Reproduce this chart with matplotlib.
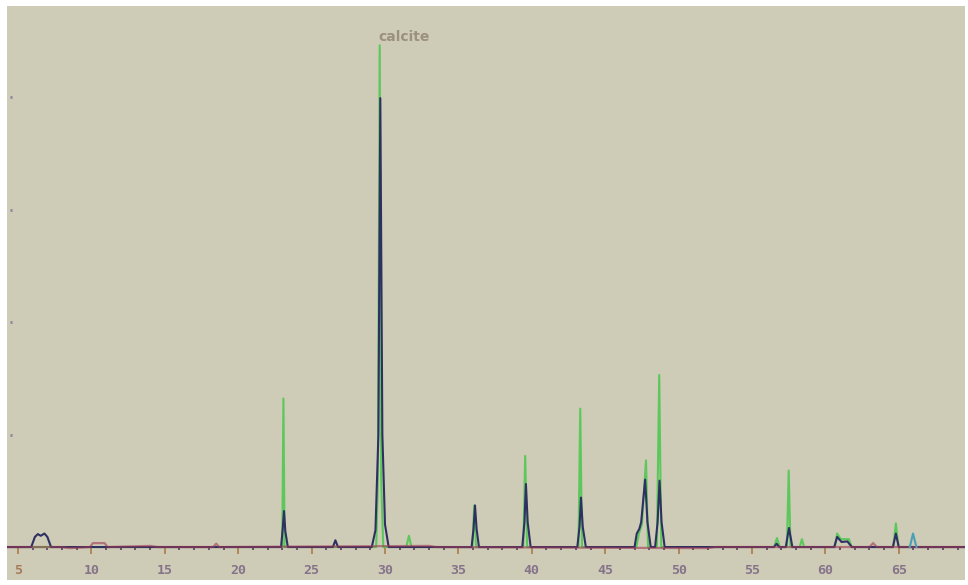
import matplotlib
matplotlib.use("Agg")
import matplotlib.pyplot as plt
from matplotlib.ticker import MultipleLocator

dark_x = [4.3, 5.9, 6.15, 6.35, 6.55, 6.8, 7.0, 7.25,
          22.92, 23.03, 23.12, 23.21, 23.38,
          26.45, 26.62, 26.8,
          29.1, 29.35, 29.55, 29.68, 29.82, 30.0, 30.25,
          35.9, 36.03, 36.13, 36.24, 36.4,
          39.35, 39.5, 39.6, 39.72, 39.92,
          43.1, 43.25, 43.35, 43.47, 43.68,
          47.0, 47.15, 47.32, 47.45, 47.72, 47.88, 48.1,
          48.4, 48.57, 48.7, 48.84, 49.05,
          56.5, 56.68, 56.85,
          57.3, 57.52, 57.75,
          60.6, 60.8, 61.1, 61.5, 61.8,
          64.6, 64.8, 65.0, 69.5]
dark_y = [0, 0, 0.09, 0.115, 0.10, 0.12, 0.09, 0,
          0, 0.16, 0.32, 0.14, 0,
          0, 0.06, 0,
          0, 0.15, 1.0, 3.99, 1.0, 0.2, 0,
          0, 0.16, 0.37, 0.16, 0,
          0, 0.22, 0.56, 0.22, 0,
          0, 0.18, 0.44, 0.18, 0,
          0, 0.12, 0.16, 0.22, 0.6, 0.22, 0,
          0, 0.22, 0.59, 0.22, 0,
          0, 0.03, 0,
          0, 0.17, 0,
          0, 0.09, 0.045, 0.05, 0,
          0, 0.12, 0, 0]

# second pattern (green trace)
green_x = [4.3, 23.0, 23.08, 23.16,
           29.4, 29.52, 29.64, 29.74, 29.88,
           31.45, 31.63, 31.8,
           35.95, 36.08, 36.2,
           39.42, 39.55, 39.68,
           43.18, 43.3, 43.42,
           47.12, 47.3, 47.5, 47.78, 47.92,
           48.52, 48.68, 48.82,
           56.5, 56.7, 56.9,
           57.38, 57.5, 57.62,
           58.25, 58.4, 58.55,
           60.65, 60.8, 61.05, 61.6, 61.8,
           64.62, 64.8, 64.98, 69.5]
green_y = [0, 0, 1.32, 0,
           0, 0.6, 4.46, 0.6, 0,
           0, 0.10, 0,
           0, 0.37, 0,
           0, 0.81, 0,
           0, 1.23, 0,
           0, 0.12, 0.2, 0.77, 0,
           0, 1.53, 0,
           0, 0.08, 0,
           0, 0.68, 0,
           0, 0.07, 0,
           0, 0.12, 0.07, 0.07, 0,
           0, 0.21, 0, 0]

# background trace (red) with the small humps
red_x = [4.3, 8.0, 8.5, 9.9, 10.1, 10.9, 11.1, 14.0, 14.5, 18.3, 18.5, 18.7,
         33.0, 33.5, 52.0, 52.5, 63.0, 63.25, 63.5, 69.5]
red_y = [0, 0, -0.01, 0, 0.035, 0.035, 0, 0.01, 0, 0, 0.03, 0,
         0.01, 0, -0.01, 0, 0, 0.035, 0, 0]

# small teal trace near 66 deg
teal_x = [65.75, 65.97, 66.2]
teal_y = [0, 0.12, 0]

x_ticks = [5, 10, 15, 20, 25, 30, 35, 40, 45, 50, 55, 60, 65]
y_ticks = [1, 2, 3, 4]

W, H = 968, 585
fig = plt.figure(figsize=(W / 100, H / 100), dpi=100)
fig.patch.set_facecolor("white")
ax = fig.add_axes([7 / W, 1 - 580 / H, (965 - 7) / W, (580 - 6) / H])
ax.set_facecolor("#cecbb6")

ax.plot(green_x, green_y, color="#5cc85c", lw=1.5, zorder=2)
ax.plot(dark_x, dark_y, color="#2e3062", lw=1.5, zorder=3)
ax.plot(red_x, red_y, color="#a03a55", lw=1.6, alpha=0.6, zorder=4)
ax.plot(teal_x, teal_y, color="#4a9fb5", lw=1.5, zorder=4)

ax.text(29.52, 4.5, "calcite", color="#9c9080", fontsize=10, fontweight="bold")

ax.set_xlim(4.25, 69.51)
ax.set_ylim(-0.293, 4.809)

for s in ax.spines.values():
    s.set_visible(False)
ax.spines["bottom"].set_position(("data", 0))
ax.spines["left"].set_position(("axes", 0.004))

ax.set_xticks(x_ticks)
ax.set_xticklabels([str(t) for t in x_ticks])
ax.xaxis.set_minor_locator(MultipleLocator(1))
ax.tick_params(axis="x", which="major", direction="out", length=5, width=1.3,
               color="#b08050", pad=7, labelsize=9.5, labelcolor="#85738a")
ax.tick_params(axis="x", which="minor", direction="out", length=2.5, width=1.2,
               color="#5a3a60")
for lab in ax.get_xticklabels():
    lab.set_fontfamily("DejaVu Sans Mono")
    lab.set_fontweight("bold")
ax.get_xticklabels()[0].set_color("#a77a5a")

ax.set_yticks(y_ticks)
ax.set_yticklabels([])
ax.tick_params(axis="y", direction="inout", length=2, width=2, color="#8a80a0")

fig.savefig("out.png", dpi=100)
